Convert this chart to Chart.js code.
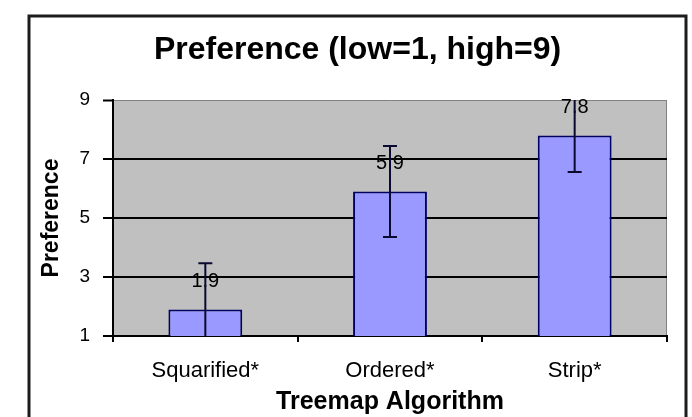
<!DOCTYPE html>
<html>
<head>
<meta charset="utf-8">
<script src="https://cdn.jsdelivr.net/npm/chart.js@4/dist/chart.umd.min.js"></script>
<style>
  html, body { margin: 0; padding: 0; background: #fff; }
  #wrap { width: 692px; height: 417px; }
</style>
</head>
<body>
<div id="wrap"><canvas id="chart" width="692" height="417"></canvas></div>
<script>
const categories = ['Squarified*', 'Ordered*', 'Strip*']
const means = [1.9, 5.9, 7.8]
const errors = [1.57, 1.54, 1.24]
const yTicks = [1, 3, 5, 7, 9]

const FONT = "'Liberation Sans', Arial, sans-serif"

// white page, outer frame and grey plot area
const frame = {
  id: 'frame',
  beforeDraw(chart) {
    const { ctx, chartArea: a } = chart
    ctx.save()
    ctx.fillStyle = '#fff'
    ctx.fillRect(0, 0, chart.width, chart.height)
    ctx.strokeStyle = '#1c1c1c'
    ctx.lineWidth = 3
    ctx.strokeRect(29, 16, 657, 440)
    ctx.fillStyle = '#c0c0c0'
    ctx.fillRect(a.left, a.top, a.right - a.left, a.bottom - a.top)
    ctx.strokeStyle = '#808080'
    ctx.lineWidth = 1
    ctx.beginPath()
    ctx.moveTo(a.right - 0.5, a.top)
    ctx.lineTo(a.right - 0.5, a.bottom)
    ctx.stroke()
    ctx.restore()
  }
}

// value labels and error bars
const errorBars = {
  id: 'errorBars',
  afterDatasetsDraw(chart) {
    const { ctx, chartArea: a } = chart
    const y = chart.scales.y
    const bars = chart.getDatasetMeta(0).data
    ctx.save()
    ctx.fillStyle = '#000'
    ctx.font = '20px ' + FONT
    ctx.textAlign = 'center'
    ctx.textBaseline = 'middle'
    bars.forEach((bar, i) => {
      ctx.fillText(means[i].toFixed(1), bar.x, bar.y - 28)
    })
    ctx.strokeStyle = '#0a0a30'
    ctx.lineWidth = 2
    bars.forEach((bar, i) => {
      const hi = means[i] + errors[i]
      const lo = means[i] - errors[i]
      const yHi = Math.max(y.getPixelForValue(hi), a.top)
      const yLo = Math.min(y.getPixelForValue(lo), a.bottom)
      ctx.beginPath()
      ctx.moveTo(bar.x, yHi)
      ctx.lineTo(bar.x, yLo)
      if (hi <= y.max) {
        ctx.moveTo(bar.x - 7, yHi)
        ctx.lineTo(bar.x + 7, yHi)
      }
      if (lo >= y.min) {
        ctx.moveTo(bar.x - 7, yLo)
        ctx.lineTo(bar.x + 7, yLo)
      }
      ctx.stroke()
    })
    ctx.restore()
  }
}

new Chart(document.getElementById('chart').getContext('2d'), {
  type: 'bar',
  data: {
    labels: categories,
    datasets: [{
      data: means,
      backgroundColor: '#9999ff',
      borderColor: '#000066',
      borderWidth: 2,
      categoryPercentage: 1,
      barPercentage: 0.4
    }]
  },
  options: {
    responsive: false,
    animation: false,
    layout: { padding: { left: 48, right: 25, top: 0, bottom: 0 } },
    plugins: {
      legend: { display: false },
      tooltip: { enabled: false },
      title: {
        display: true,
        text: 'Preference (low=1, high=9)',
        color: '#000',
        font: { family: FONT, size: 32, weight: 'bold' },
        padding: { top: 31, bottom: 30.6 }
      }
    },
    scales: {
      x: {
        afterFit(s) { s.height = 81 },
        border: { color: '#000', width: 2 },
        grid: {
          drawOnChartArea: false,
          drawTicks: true,
          tickLength: 6,
          color: '#000',
          lineWidth: 2
        },
        ticks: {
          color: '#000',
          padding: 16,
          font: { family: FONT, size: 22 }
        },
        title: {
          display: true,
          text: 'Treemap Algorithm',
          color: '#000',
          font: { family: FONT, size: 25, weight: 'bold' },
          padding: { top: 0, bottom: 0 }
        }
      },
      y: {
        min: 1,
        max: 9,
        afterFit(s) { s.width = 65 },
        afterBuildTicks(s) { s.ticks = yTicks.map(v => ({ value: v })) },
        border: { color: '#000', width: 2 },
        grid: {
          color: c => (c.tick && c.tick.value === 9 ? '#808080' : '#000'),
          lineWidth: c => (c.tick && c.tick.value === 9 ? 1 : 2),
          tickColor: '#000',
          tickWidth: 2,
          tickLength: 10
        },
        ticks: {
          color: '#000',
          padding: 13,
          font: { family: FONT, size: 19 }
        },
        title: {
          display: true,
          text: 'Preference',
          color: '#000',
          font: { family: FONT, size: 23, weight: 'bold' },
          padding: { top: -10, bottom: 0 }
        }
      }
    }
  },
  plugins: [frame, errorBars]
})
</script>
</body>
</html>
